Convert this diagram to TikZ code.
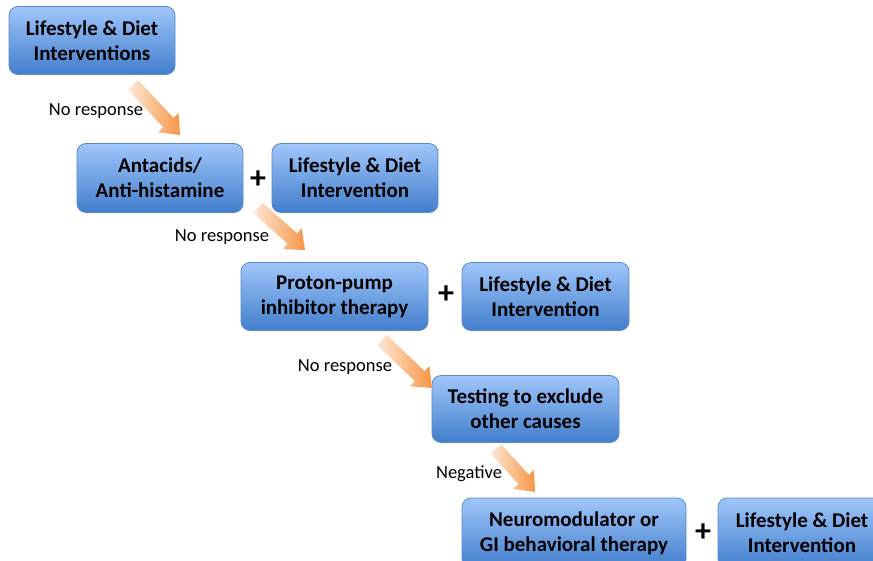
\documentclass[tikz,border=0pt]{standalone}
\usepackage{fontspec}
\setmainfont{Carlito}
\usetikzlibrary{calc}
\definecolor{boxtop}{RGB}{160,198,250}
\definecolor{boxmid}{RGB}{122,168,236}
\definecolor{boxbot}{RGB}{66,126,204}
\definecolor{boxedge}{RGB}{88,138,208}
\definecolor{arrlight}{RGB}{253,232,214}
\definecolor{arrdark}{RGB}{247,150,70}
\tikzset{
  stepbox/.style={rectangle, rounded corners=9pt, draw=boxedge, line width=0.8pt,
    top color=boxtop, middle color=boxmid, bottom color=boxbot,
    align=center, font=\fontsize{21}{25}\selectfont\bfseries, text=black,
    inner sep=0pt},
  plussign/.style={font=\fontsize{32}{32}\selectfont\bfseries, text=black, inner sep=0pt},
  steplabel/.style={font=\fontsize{18.5}{20}\selectfont, text=black, inner sep=0pt},
  fatarrow/.style={left color=arrlight, right color=arrdark, draw=none}
}
\newcommand\fatarrow[2]{%
  \coordinate (#1-neck) at ($(#2)!17pt!(#1)$);
  \shade[fatarrow] ($(#1)!7pt!90:(#2)$) -- ($(#1-neck)!7pt!-90:(#1)$)
    -- ($(#1-neck)!14pt!-90:(#1)$) -- (#2)
    -- ($(#1-neck)!14pt!90:(#1)$) -- ($(#1-neck)!7pt!90:(#1)$)
    -- ($(#1)!7pt!-90:(#2)$) -- cycle;}
\begin{document}
\begin{tikzpicture}[x=1pt,y=-1pt]
\useasboundingbox (0,0) rectangle (873,560);
% boxes
\node[stepbox, minimum width=166pt, minimum height=68pt] (b1) at (92,40.5) {Lifestyle \& Diet\\Interventions};
\node[stepbox, minimum width=166pt, minimum height=69pt] (b2) at (160,178) {Antacids/\\Anti-histamine};
\node[stepbox, minimum width=166pt, minimum height=69pt] (b2l) at (355,178) {Lifestyle \& Diet\\Intervention};
\node[stepbox, minimum width=187pt, minimum height=68pt] (b3) at (334.5,296.5) {Proton-pump\\inhibitor therapy};
\node[stepbox, minimum width=167pt, minimum height=68pt] (b3l) at (545.5,296.5) {Lifestyle \& Diet\\Intervention};
\node[stepbox, minimum width=187pt, minimum height=67pt] (b4) at (525.5,409) {Testing to exclude\\other causes};
\node[stepbox, minimum width=224pt, minimum height=70pt] (b5) at (574,533) {Neuromodulator or\\GI behavioral therapy};
\node[stepbox, minimum width=168pt, minimum height=70pt] (b5l) at (802,533) {Lifestyle \& Diet\\Intervention};
% plus signs
\node[plussign] (p2) at (258,180) {+};
\node[plussign] (p3) at (446,295) {+};
\node[plussign] (p5) at (703,533) {+};
% labels
\node[steplabel] (l1) at (96,111) {No response};
\node[steplabel] (l2) at (222,237) {No response};
\node[steplabel] (l3) at (345,367) {No response};
\node[steplabel] (l4) at (469,474) {Negative};
% arrows
\coordinate (a1) at (133,85);  \coordinate (a1t) at (180,135);
\coordinate (a2) at (258,208); \coordinate (a2t) at (305,250);
\coordinate (a3) at (382,340); \coordinate (a3t) at (432,388);
\coordinate (a4) at (496,449); \coordinate (a4t) at (535,492);
\fatarrow{a1}{a1t}
\fatarrow{a2}{a2t}
\fatarrow{a3}{a3t}
\fatarrow{a4}{a4t}
\end{tikzpicture}
\end{document}
